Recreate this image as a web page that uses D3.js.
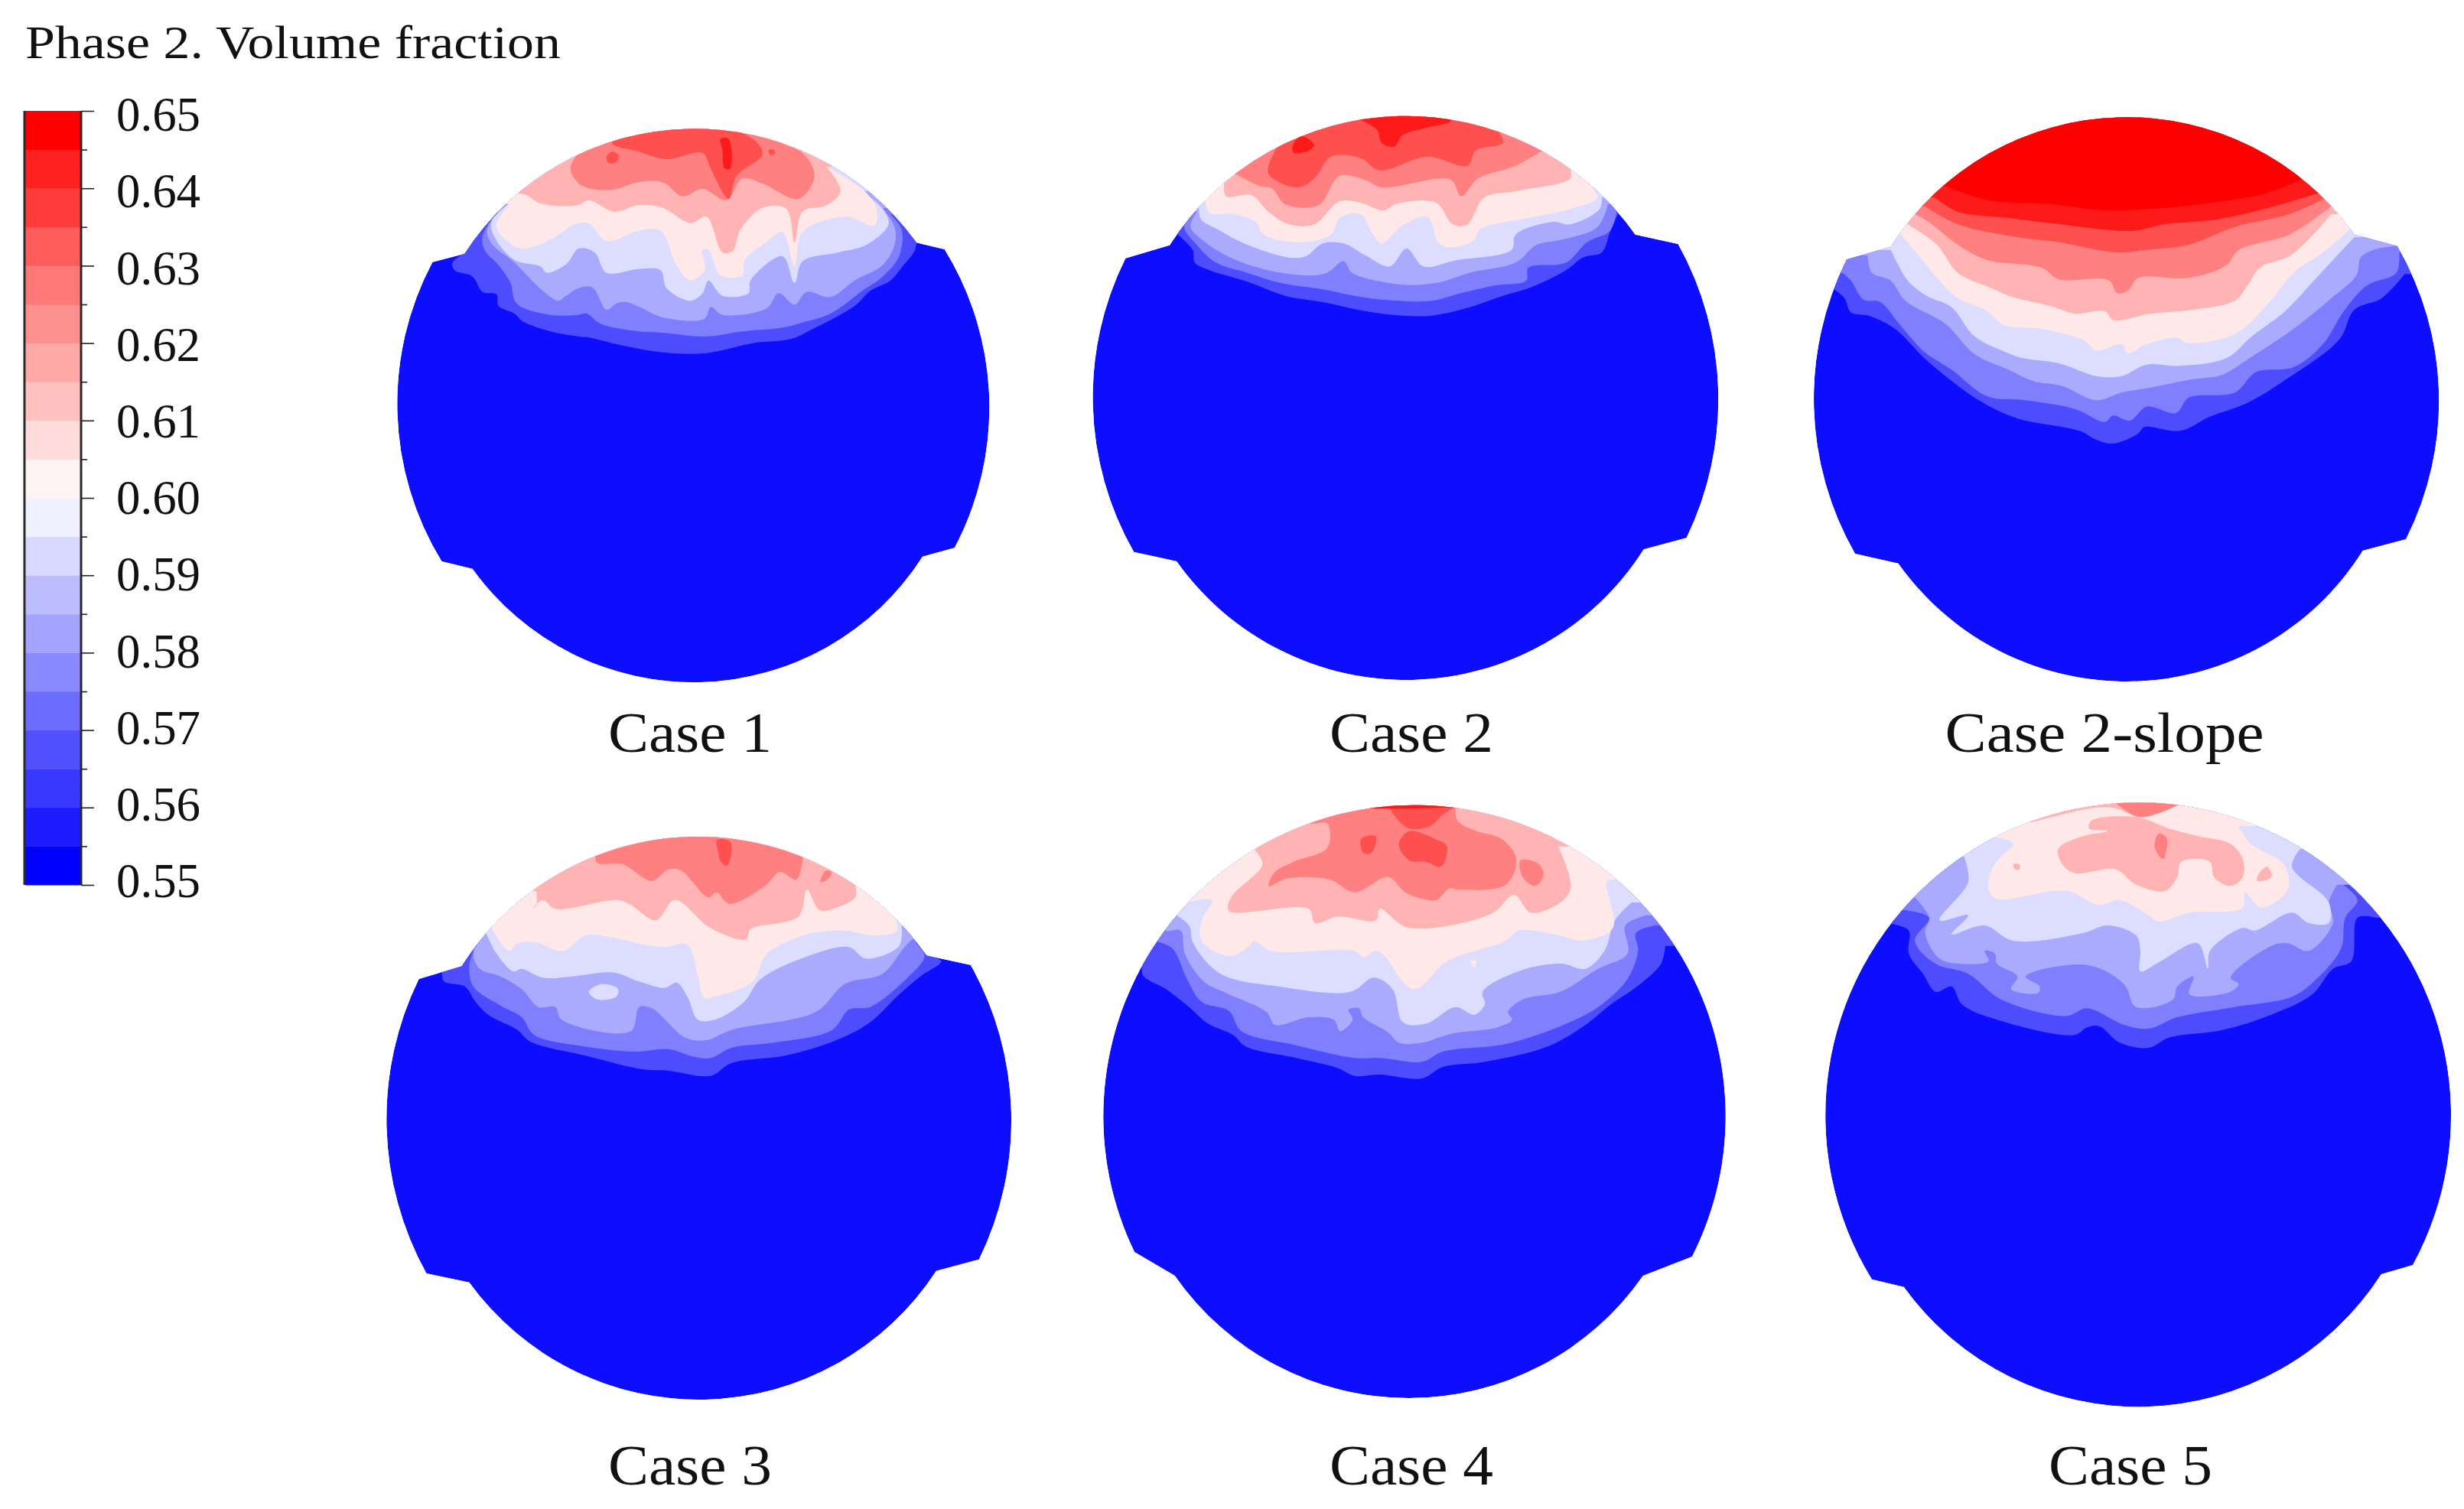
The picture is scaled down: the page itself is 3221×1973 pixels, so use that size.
<!DOCTYPE html>
<html><head><meta charset="utf-8">
<script src="https://cdn.jsdelivr.net/npm/d3@7"></script>
<style>html,body{margin:0;background:#fff}svg{display:block}text{font-family:"Liberation Serif",serif;fill:#111}</style>
</head><body><div id="c"></div>
<script>
// ---------- colour bar ----------
const barTicks=[0.65,0.64,0.63,0.62,0.61,0.60,0.59,0.58,0.57,0.56,0.55];
const barMinor=[0.645,0.635,0.625,0.615,0.605,0.595,0.585,0.575,0.565,0.555];
const barValues=[0.55,0.555,0.56,0.565,0.57,0.575,0.58,0.585,0.59,0.595,0.60,0.605,0.61,0.615,0.62,0.625,0.63,0.635,0.64,0.645];
const barColors=["#0000ff","#1c1cff","#3838ff","#5050ff","#6c6cff","#8888ff","#a4a4ff","#bcbcff","#d8d8ff","#f0f0ff","#fff4f4","#ffdcdc","#ffc0c0","#ffa8a8","#ff9090","#ff7878","#ff5c5c","#ff3c3c","#ff2020","#ff0000"];
const legendTitle="Phase 2. Volume fraction";
// contour levels (0 = lowest band)
const levelColors=["#0d0dff","#4d4dff","#8080ff","#aaaaff","#ddddff","#ffe8e8","#ffb3b3","#ff8080","#ff5050","#ff1a1a","#ff0000"];
const caseNames=["Case 1","Case 2","Case 2-slope","Case 3","Case 4","Case 5"];

// ---------- section outlines: each wall arc as start, middle, end, in the section's own grid units ----------
const case1Outline=[
[205,575,780,85,1335,532],
[1405,558,1517,1192,1430,1729],
[1350,1763,810,2255,225,1811],
[148,1782,37,1144,125,608]];
const case2Outline=[
[235,572,800,65,1345,530],
[1447,567,1543,1174,1467,1720],
[1365,1765,800,2277,252,1812],
[150,1775,52,1162,130,623]];
const case2sOutline=[
[240,578,800,70,1345,530],
[1447,575,1545,1100,1468,1725],
[1365,1770,800,2283,258,1820],
[155,1782,58,1100,135,628]];
const case3Outline=[
[207,580,760,72,1315,538],
[1420,575,1517,1190,1440,1730],
[1338,1775,780,2280,225,1820],
[123,1785,28,1150,105,630]];
const case4Outline=[
[115,1791,780,38,1444,1809],
[1327,1884,770,2364,211,1884]];
const case5Outline=[
[125,1898,790,28,1445,1842],
[1368,1878,790,2398,203,1928]];

// ---------- contour boundaries: [level, boundary]; everything above the boundary takes that level ----------
const case1Bounds=[
[1,[205,572,175,610,180,640,225,665,250,725,285,735,290,780,330,810,350,840,420,880,490,900,520,905,600,935,700,962,810,965,930,925,1020,910,1070,875,1180,780,1220,720,1270,680,1300,625,1330,565,1335,532]],
[2,[270,445,250,510,255,560,290,620,320,690,335,770,420,815,490,815,510,810,545,850,640,880,700,885,810,900,900,880,1000,865,1050,845,1120,810,1200,720,1250,665,1290,590,1300,510,1295,470,1270,420]],
[3,[290,415,262,480,270,530,330,610,400,720,440,760,455,745,490,710,525,708,560,795,585,770,610,765,650,790,700,825,805,830,820,785,850,815,960,790,990,730,1030,775,1060,725,1120,745,1180,680,1250,620,1280,540,1280,470,1250,395]],
[4,[315,380,272,450,280,510,330,600,395,625,410,650,460,615,490,555,530,570,560,650,640,635,695,640,710,710,770,760,800,730,815,680,850,740,915,730,920,680,1000,585,1030,690,1050,605,1140,570,1210,540,1265,460,1250,400,1200,330]],
[5,[318,378,285,470,345,555,420,520,480,460,515,455,560,525,640,485,695,485,735,620,770,680,805,640,800,560,815,560,845,660,900,660,905,600,960,530,1000,490,1030,625,1050,490,1160,430,1230,465,1235,400,1205,330,1110,235]],
[6,[340,340,360,345,395,378,490,385,515,365,580,410,640,385,700,395,770,455,810,430,850,570,875,565,895,480,950,395,1010,400,1030,530,1050,410,1110,385,1145,330,1110,235]],
[7,[490,180,470,240,495,305,570,325,640,295,700,295,750,350,800,320,860,365,900,280,950,300,1040,360,1080,270,1050,180,1000,145]],
[8,[575,125,575,145,640,175,710,205,800,180,820,240,865,360,885,270,950,185,930,130,880,90]]];
const case1Spots=[
[8,[560,195,575,175,590,190,585,215,565,220]],
[8,[965,170,975,165,982,180,970,188]],
[9,[845,125,865,125,870,240,855,240,850,170]]];

const case2Bounds=[
[1,[255,530,290,590,295,640,330,670,420,715,510,770,600,795,700,830,790,848,860,848,940,820,1030,770,1100,735,1180,670,1220,620,1265,600,1285,520,1305,445]],
[2,[295,440,270,500,300,570,345,640,420,680,500,720,600,745,690,775,780,790,860,790,930,760,1010,730,1085,710,1090,660,1180,640,1230,560,1285,515,1300,440]],
[3,[300,440,285,500,320,560,380,620,470,670,560,690,610,680,650,635,670,680,780,725,870,720,950,680,1060,640,1110,570,1170,550,1255,500,1280,410]],
[4,[305,425,310,470,350,510,420,570,520,620,560,615,600,565,650,565,700,610,760,655,800,585,840,655,920,630,1050,590,1060,530,1150,480,1190,490,1260,430,1265,385]],
[5,[320,400,330,445,390,450,440,480,460,530,540,560,620,530,640,465,690,450,720,530,740,565,790,495,850,460,875,560,900,580,960,555,975,510,1090,465,1190,430,1255,385,1235,330]],
[6,[365,330,370,380,430,375,470,440,520,490,580,490,640,400,690,405,745,435,775,410,870,405,910,490,945,490,985,385,1060,360,1190,310,1190,270]],
[7,[395,295,450,340,480,350,510,410,590,415,640,300,700,315,740,345,905,315,930,380,970,310,1060,260,1120,205]],
[8,[490,190,470,290,540,345,580,310,620,225,690,230,735,278,850,225,945,260,965,200,1030,170,1020,130]],
[9,[690,80,730,120,740,170,770,185,790,140,850,110,905,85,900,60]]];
const case2Spots=[[9,[530,175,550,145,580,180,560,205,530,208]],[6,[1100,240,1115,230,1128,245,1112,258]]];

const case2sBounds=[
[1,[105,745,130,780,145,835,190,850,250,900,330,1030,450,1180,540,1250,690,1300,730,1335,770,1350,830,1310,845,1285,930,1300,1000,1245,1090,1190,1190,1090,1310,940,1345,825,1410,780,1465,685]],
[2,[125,680,145,710,175,785,215,795,260,880,320,990,385,1060,470,1165,560,1180,680,1215,750,1265,770,1240,810,1260,850,1205,920,1230,950,1170,1060,1150,1110,1070,1200,1050,1270,960,1320,830,1375,730,1445,680,1452,600]],
[3,[185,612,195,680,240,710,275,790,370,880,440,1000,520,1060,580,1105,650,1125,730,1180,790,1150,860,1130,950,1100,1030,1080,1090,1020,1200,900,1290,780,1350,690,1360,620,1390,590,1440,575]],
[4,[240,590,255,640,280,710,325,770,385,815,440,930,520,995,555,1015,640,1035,730,1085,790,1085,850,1040,930,1045,1040,1015,1100,930,1180,830,1260,690,1345,540]],
[5,[265,530,300,600,350,700,400,780,470,830,510,885,600,900,700,945,730,985,790,960,805,995,850,960,925,935,945,955,1060,920,1140,800,1200,680,1270,600,1335,510]],
[6,[280,490,350,570,400,680,480,740,530,775,620,810,680,840,750,830,770,865,860,840,960,825,1060,790,1090,730,1120,660,1195,610,1290,450]],
[7,[298,450,330,480,400,570,470,630,600,660,640,705,760,710,780,760,805,750,830,700,950,700,1040,650,1070,590,1190,530,1290,420]],
[8,[322,420,400,490,540,540,640,560,780,600,850,590,950,570,1060,500,1190,450,1280,385]],
[9,[345,385,400,440,520,465,620,485,820,515,890,490,1020,470,1130,430,1255,370]],
[10,[370,340,470,395,620,410,750,435,850,430,980,410,1130,370,1225,310]]];
const case2sSpots=[];

const case3Bounds=[
[1,[160,605,165,640,215,660,240,720,270,770,340,830,370,875,500,930,640,985,700,990,800,1010,850,960,980,930,1100,870,1180,800,1250,690,1300,620,1350,560,1315,538]],
[2,[235,520,225,580,235,660,300,735,350,780,380,850,500,895,620,915,700,905,760,935,800,940,850,900,950,880,1090,830,1130,750,1180,740,1260,640,1310,540,1290,490]],
[3,[255,470,235,530,250,590,300,620,350,670,390,740,430,740,445,790,610,835,630,740,660,745,740,860,790,870,850,830,1050,760,1120,650,1210,610,1260,510,1280,475]],
[4,[265,450,290,530,330,600,350,590,400,625,470,620,570,605,630,640,690,665,720,645,745,700,770,790,810,790,880,720,920,630,1050,530,1130,505,1170,550,1250,500,1255,420]],
[5,[278,430,320,520,340,490,380,485,450,520,500,460,560,465,640,495,690,505,745,495,770,620,785,705,810,700,900,640,935,530,1020,460,1040,450,1120,440,1190,460,1245,440,1240,390]],
[6,[385,285,385,340,375,355,400,320,430,355,580,320,610,340,670,400,715,320,800,430,885,475,895,435,1010,385,1030,280,1060,360,1100,350,1145,310,1145,265]],
[7,[525,150,530,175,590,180,660,245,700,200,730,205,795,310,815,290,845,335,930,265,965,210,1005,240,1020,160,1020,150]]];
const case3Spots=[
[4,[510,680,540,650,580,670,575,700,530,710]],
[4,[820,590,832,595,828,610,820,605]],
[4,[880,590,895,575,890,605]],
[3,[690,725,697,730,692,748]],
[7,[1075,205,1088,210,1082,235,1062,250]],
[8,[815,85,840,85,850,100,840,185,825,170,818,130]]];

const case4Bounds=[
[1,[135,650,135,705,190,760,245,830,290,895,350,940,380,985,500,1030,600,1070,640,1100,700,1095,800,1110,850,1065,950,1045,1100,985,1190,900,1250,820,1320,740,1370,660,1380,590]],
[2,[160,570,205,600,240,720,275,810,340,845,370,925,500,980,640,1030,700,1030,800,1045,850,1005,1000,975,1130,905,1220,830,1290,720,1315,610,1310,540,1355,510]],
[3,[205,470,190,530,225,530,235,620,280,730,340,780,430,850,450,900,530,870,590,880,605,925,635,880,625,840,650,835,660,870,720,930,745,970,800,970,870,935,980,910,1015,880,1005,850,1040,800,1130,770,1220,680,1290,620,1285,510,1335,470]],
[4,[215,470,245,510,255,580,320,700,460,750,630,770,685,715,730,760,755,890,810,895,880,830,925,860,950,820,945,770,1030,690,1130,660,1190,680,1235,610,1260,490,1300,420]],
[5,[240,420,300,410,275,490,275,570,340,630,390,590,400,570,440,610,640,610,660,635,695,610,780,760,860,650,1000,570,1030,530,1130,550,1180,570,1255,520,1240,340,1250,330]],
[6,[400,210,420,270,345,400,340,452,530,445,545,500,600,475,690,490,700,445,760,515,850,515,970,460,1020,390,1060,460,1130,420,1155,360,1125,200]],
[7,[550,110,575,110,575,205,495,260,450,300,435,355,480,325,580,330,640,380,720,320,760,380,800,405,835,410,865,365,890,370,1000,350,1025,250,990,170,930,140,885,100,880,50]],
[8,[720,40,735,80,770,130,820,120,850,75,880,45]],
[9,[650,50,730,52,860,48]]];
const case4Spots=[
[5,[915,650,930,650,925,675]],
[5,[885,60,920,55,935,80,900,110,885,90]],
[3,[897,60,910,60,908,80]],
[7,[1035,255,1075,265,1090,310,1070,355,1040,320]],
[8,[745,190,770,140,830,170,860,200,845,280,810,260,770,255]],
[8,[655,170,690,160,680,225,660,225]],
[5,[1165,420,1175,415,1172,445]],
[5,[1095,225,1102,225,1100,285]]];

const case5Bounds=[
[1,[175,505,215,530,215,620,250,700,280,770,320,750,345,820,430,880,620,940,650,910,680,905,730,970,800,990,850,950,980,920,1100,860,1200,780,1250,680,1295,650,1310,480,1355,480]],
[2,[205,450,265,480,230,570,280,660,360,700,440,800,600,865,650,835,740,900,800,915,870,870,1010,830,1150,790,1210,720,1270,600,1280,480,1310,410,1270,345]],
[3,[230,400,265,480,255,540,290,640,340,660,410,650,400,610,425,620,430,660,480,710,465,760,530,775,535,750,500,710,650,665,740,740,770,830,860,800,870,750,910,710,900,780,1000,770,1020,740,1000,715,1100,590,1140,580,1190,610,1250,500,1240,420,1260,350]],
[4,[350,240,360,340,290,490,360,470,320,545,400,510,470,570,640,540,700,510,770,550,780,610,780,690,830,650,920,580,945,680,950,610,1030,520,1060,530,1150,460,1190,500,1240,500,1240,420,1150,280,1170,210]],
[5,[430,165,470,190,440,240,415,300,410,370,430,405,600,375,680,430,730,410,800,470,825,495,900,460,1030,440,1035,380,1075,440,1140,370,1130,270,1050,190,1020,120]],
[6,[515,105,590,75,660,50,720,50,780,85,870,40]],
[7,[720,30,780,85,875,35]]];
const case5Spots=[
[6,[580,210,640,160,700,140,655,130,660,100,770,85,850,130,920,160,1000,190,1030,250,1030,320,1000,355,960,320,950,260,880,260,870,320,840,375,770,350,720,290,620,305,590,270]],
[5,[700,170,730,160,750,195,725,225,700,190]],
[7,[825,150,845,170,835,250,815,200]],
[6,[470,270,485,270,485,290,475,290]],
[6,[1090,280,1100,320,1065,335,1070,305]],
[6,[945,60,1005,90,985,80]],
[4,[1030,130,1070,160,1065,230,1035,190]],
[2,[895,45,925,50,915,75,895,65]]];

const caseOutlines=[case1Outline,case2Outline,case2sOutline,case3Outline,case4Outline,case5Outline];
const caseBounds=[case1Bounds,case2Bounds,case2sBounds,case3Bounds,case4Bounds,case5Bounds];
const caseSpots=[case1Spots,case2Spots,case2sSpots,case3Spots,case4Spots,case5Spots];

// ---------- layout ----------
const W=3221,H=1973;
const frames=[{x:500,w:820,y:140},{x:1400,w:860,y:130},{x:2340,w:860,y:130},{x:490,w:860,y:1070},{x:1420,w:860,y:1040},{x:2380,w:840,y:1040}];
const labelPos=[[902,983],[1845,983],[2751,983],[902,1941],[1845,1941],[2785,1941]];
const labelLen=[214,214,417,214,214,214];

const svg=d3.select("#c").append("svg").attr("width",W).attr("height",H).attr("viewBox",[0,0,W,H]);
svg.append("rect").attr("width",W).attr("height",H).attr("fill","#fff");
const chunk=a=>d3.range(0,a.length,2).map(i=>[a[i],a[i+1]]);
const defs=svg.append("defs");

// wall arc: the circle through three points, drawn clockwise from the first to the last
function addArc(path,p,q,r){
  const d=2*(p[0]*(q[1]-r[1])+q[0]*(r[1]-p[1])+r[0]*(p[1]-q[1]));
  const s=a=>a[0]*a[0]+a[1]*a[1];
  const cx=(s(p)*(q[1]-r[1])+s(q)*(r[1]-p[1])+s(r)*(p[1]-q[1]))/d;
  const cy=(s(p)*(r[0]-q[0])+s(q)*(p[0]-r[0])+s(r)*(q[0]-p[0]))/d;
  const a0=Math.atan2(p[1]-cy,p[0]-cx),a1=Math.atan2(r[1]-cy,r[0]-cx);
  path.arc(cx,cy,Math.hypot(p[0]-cx,p[1]-cy),a0,a1,false);
}

caseNames.forEach((name,i)=>{
  const f=frames[i];
  const x=d3.scaleLinear().domain([0,1568]).range([f.x,f.x+f.w]);
  const y=d3.scaleLinear().domain([0,3]).range([f.y,f.y+1]);
  const px=d=>[x(d[0]),y(d[1])];
  const smooth=d3.line().x(d=>x(d[0])).y(d=>y(d[1])).curve(d3.curveCatmullRom.alpha(0.5));
  const ring=d3.line().x(d=>x(d[0])).y(d=>y(d[1])).curve(d3.curveCatmullRomClosed.alpha(0.5));
  const op=d3.path();
  caseOutlines[i].forEach(a=>{
    const c=chunk(a).map(px);
    addArc(op,c[0],c[1],c[2]);
  });
  op.closePath();
  const outlinePath=op.toString();
  defs.append("clipPath").attr("id","clip"+i).append("path").attr("d",outlinePath);
  const g=svg.append("g").attr("clip-path",`url(#clip${i})`);
  g.append("path").attr("d",outlinePath).attr("fill",levelColors[0]);
  const items=[...caseBounds[i].map(b=>({level:b[0],pts:chunk(b[1]),open:true})),
               ...caseSpots[i].map(b=>({level:b[0],pts:chunk(b[1]),open:false}))];
  const ordered=d3.sort(items,d=>d.level);
  g.selectAll("path.band").data(ordered).join("path").attr("class","band")
    .attr("fill",d=>levelColors[d.level])
    .attr("d",d=>{
      if(!d.open) return ring(d.pts);
      const a=d.pts[0],b=d.pts[d.pts.length-1];
      return smooth(d.pts)+`L${x(3000)},${y(b[1])}L${x(3000)},${y(-600)}L${x(-1500)},${y(-600)}L${x(-1500)},${y(a[1])}Z`;
    });
  svg.append("text").attr("x",labelPos[i][0]).attr("y",labelPos[i][1]).attr("text-anchor","middle")
    .attr("font-size",74).attr("textLength",labelLen[i]).attr("lengthAdjust","spacingAndGlyphs").text(name);
});

// ---------- legend ----------
svg.append("text").attr("x",33).attr("y",76).attr("font-size",62).attr("textLength",700)
   .attr("lengthAdjust","spacingAndGlyphs").text(legendTitle);
const v=d3.scaleLinear().domain([0.55,0.65]).range([1157,145]);
const labelY=d3.scaleLinear().domain([0.55,0.65]).range([1151,149]);
svg.append("g").selectAll("rect").data(barValues).join("rect")
  .attr("x",33).attr("width",73)
  .attr("y",d=>v(d+0.005)).attr("height",d=>v(d)-v(d+0.005)+0.5)
  .attr("fill",(d,i)=>barColors[i]);
svg.append("path").attr("d",`M32,${v(0.65)}V${v(0.55)}M106,${v(0.65)}V${v(0.55)}`).attr("stroke","#2a2a2a").attr("stroke-width",3).attr("fill","none");
const minor=d3.axisRight(v).tickValues(barMinor).tickSize(8).tickFormat("");
const gMin=svg.append("g").attr("transform","translate(106,0)").call(minor);
gMin.select(".domain").remove();
gMin.selectAll("line").attr("stroke","#222").attr("stroke-width",1.6);
const major=d3.axisRight(v).tickValues(barTicks).tickSize(17).tickPadding(29).tickFormat(d3.format(".2f"));
const gMaj=svg.append("g").attr("transform","translate(106,0)").call(major);
gMaj.select(".domain").remove();
gMaj.selectAll("line").attr("stroke","#222").attr("stroke-width",1.6);
gMaj.selectAll("text").attr("font-size",64).attr("font-family","Liberation Serif")
  .attr("textLength",110).attr("lengthAdjust","spacingAndGlyphs")
  .attr("dy","0.34em").attr("y",d=>labelY(d)-v(d));
</script></body></html>
